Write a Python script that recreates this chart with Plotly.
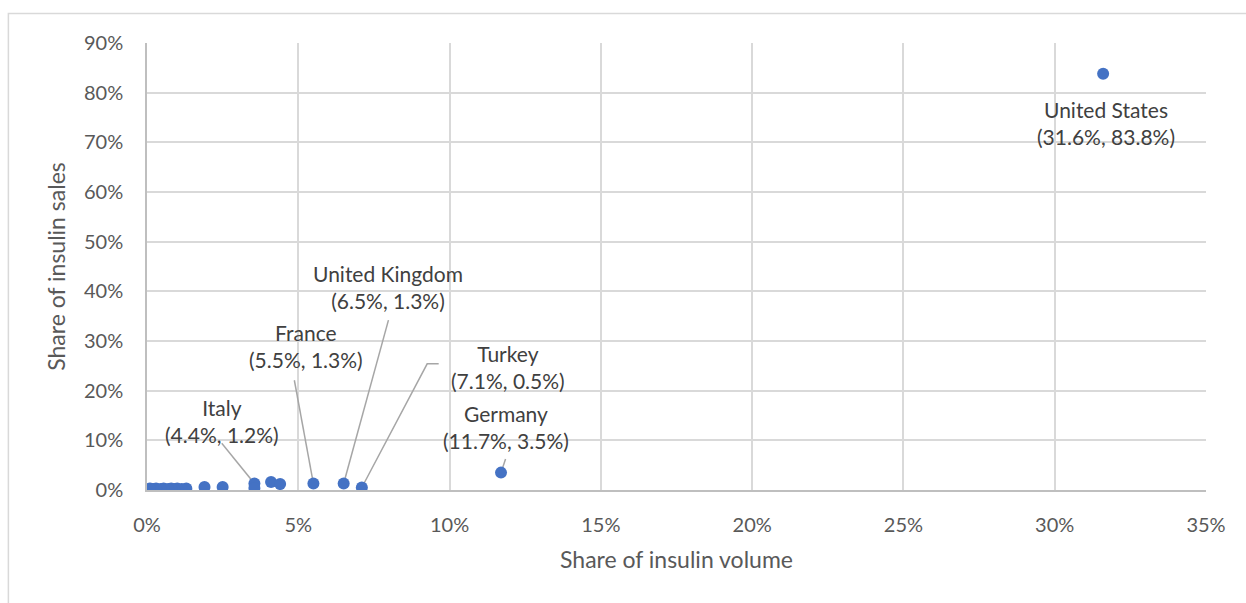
import plotly.graph_objects as go

# Labelled countries: share of global insulin volume vs share of insulin sales (%)
countries = ["United States", "Germany", "Turkey", "United Kingdom", "France", "Italy"]
volume_share = [31.6, 11.7, 7.1, 6.5, 5.5, 4.4]
sales_share = [83.8, 3.5, 0.5, 1.3, 1.3, 1.2]

# Remaining (unlabelled) countries
other_volume = [4.1, 3.55, 3.55, 2.5, 1.9, 1.3, 1.15, 1.0, 0.9, 0.8, 0.7, 0.55, 0.45, 0.3, 0.2, 0.1]
other_sales = [1.6, 1.3, 0.4, 0.6, 0.6, 0.3, 0.2, 0.3, 0.2, 0.3, 0.2, 0.3, 0.2, 0.3, 0.2, 0.3]

x_ticks = [0, 5, 10, 15, 20, 25, 30, 35]
x_tick_labels = ["0%", "5%", "10%", "15%", "20%", "25%", "30%", "35%"]
y_ticks = [0, 10, 20, 30, 40, 50, 60, 70, 80, 90]
y_tick_labels = ["0%", "10%", "20%", "30%", "40%", "50%", "60%", "70%", "80%", "90%"]

BLUE = "#4472C4"
LEADER = "#a6a6a6"
TEXT = "#404040"
TICK = "#595959"
GRID = "#d9d9d9"
FONT = "Lato, 'Open Sans', sans-serif"

# Label placement (centre of each two-line label, data units) and leader-line anchors
label_pos = {
    "United States": (31.69, 73.9),
    "Germany": (11.85, 12.68),
    "Turkey": (11.92, 24.76),
    "United Kingdom": (7.95, 40.9),
    "France": (5.26, 29.0),
    "Italy": (2.48, 13.9),
}
leader_start = {
    "Germany": [(11.85, 6.24)],
    "Turkey": [(9.64, 25.4), (9.26, 25.4)],
    "United Kingdom": [(7.98, 34.2)],
    "France": [(4.87, 22.1)],
    "Italy": [(2.47, 9.4)],
}

fig = go.Figure()

# Leader lines from labels to their points
for name, pts in leader_start.items():
    i = countries.index(name)
    if name == "Italy":
        end = (other_volume[1], other_sales[1])
    else:
        end = (volume_share[i], sales_share[i])
    xs = [p[0] for p in pts] + [end[0]]
    ys = [p[1] for p in pts] + [end[1]]
    fig.add_trace(go.Scatter(x=xs, y=ys, mode="lines",
                             line=dict(color=LEADER, width=1.5),
                             hoverinfo="skip", showlegend=False))

fig.add_trace(go.Scatter(x=other_volume, y=other_sales, mode="markers",
                         marker=dict(color=BLUE, size=12), showlegend=False))
fig.add_trace(go.Scatter(x=volume_share, y=sales_share, mode="markers",
                         text=countries, marker=dict(color=BLUE, size=12),
                         showlegend=False))

for name, vx, vy in zip(countries, volume_share, sales_share):
    lx, ly = label_pos[name]
    fig.add_annotation(x=lx, y=ly, xref="x", yref="y", showarrow=False,
                       text=f"{name}<br>({vx:.1f}%, {vy:.1f}%)",
                       font=dict(family=FONT, size=21, color=TEXT),
                       align="center")

# Outer chart frame
fig.add_shape(type="rect", xref="paper", yref="paper",
              x0=-0.1309, x1=1.1, y0=-0.3, y1=1.0660,
              line=dict(color="#d9d9d9", width=1.5), layer="below")

fig.update_xaxes(range=[0, 35], tickvals=x_ticks, ticktext=x_tick_labels,
                 showgrid=True, gridcolor=GRID, gridwidth=1.5,
                 showline=True, linecolor="#bfbfbf", linewidth=1.5,
                 zeroline=False, ticks="", ticklabelstandoff=16,
                 tickfont=dict(family=FONT, size=20, color=TICK),
                 title=dict(text="Share of insulin volume", standoff=17,
                            font=dict(family=FONT, size=23, color=TICK)))
fig.update_yaxes(range=[0, 90], tickvals=y_ticks, ticktext=y_tick_labels,
                 showgrid=True, gridcolor=GRID, gridwidth=1.5,
                 showline=True, linecolor="#bfbfbf", linewidth=1.5,
                 zeroline=False, ticks="", ticklabelstandoff=18,
                 tickfont=dict(family=FONT, size=20, color=TICK),
                 title=dict(text="Share of insulin sales", standoff=12,
                            font=dict(family=FONT, size=23, color=TICK)))

fig.update_layout(width=1246, height=603,
                  margin=dict(l=147, r=40, t=43, b=113),
                  plot_bgcolor="white", paper_bgcolor="white",
                  font=dict(family=FONT, color=TICK))

fig.write_html("out.html")
